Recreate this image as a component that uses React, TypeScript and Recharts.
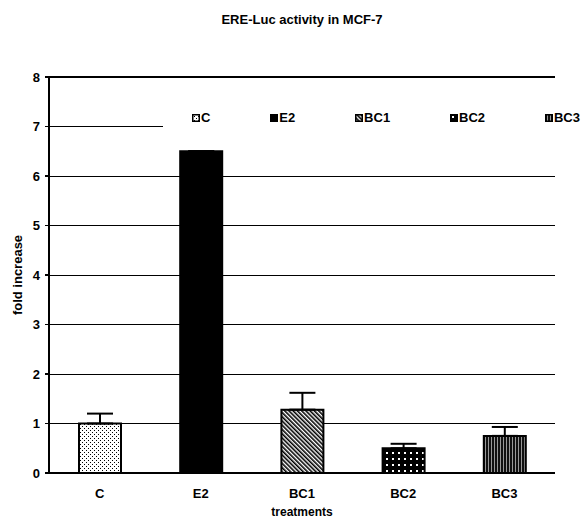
import React from 'react';
import { BarChart, Bar, XAxis, YAxis, CartesianGrid, ErrorBar, Cell, Legend, ReferenceLine, Label } from 'recharts';

// values
const categories = ['C', 'E2', 'BC1', 'BC2', 'BC3'];
const foldIncrease = [1.0, 6.5, 1.28, 0.5, 0.75];
const upperError = [0.2, 0, 0.34, 0.09, 0.18];
const yTicks = [0, 1, 2, 3, 4, 5, 6, 7, 8];
const edgeTicks = [0, 1, 2, 3, 4, 5];

const fills = ['url(#patC)', '#000', 'url(#patBC1)', 'url(#patBC2)', 'url(#patBC3)'];

const data = categories.map((name, i) => ({
    name,
    value: foldIncrease[i],
    err: [0, upperError[i]],
}));

const FONT = '"Liberation Sans", Arial, sans-serif';
const tickStyle = { fill: '#000', fontSize: 13, fontWeight: 700, fontFamily: FONT };
const crisp = { shapeRendering: 'crispEdges' as const };

const renderLegend = () => (
    <div
        style={{
            display: 'flex',
            justifyContent: 'space-between',
            alignItems: 'center',
            height: '100%',
            padding: '0 1px 0 29px',
            boxSizing: 'border-box',
        }}
    >
        {categories.map((c, i) => (
            <div key={c} style={{ display: 'flex', alignItems: 'center', marginTop: 2 }}>
                <svg width={8} height={8} style={{ marginRight: 1, display: 'block' }}>
                    <rect x={0.75} y={0.75} width={6.5} height={6.5} fill={fills[i]} stroke="#000" strokeWidth={1.5} />
                </svg>
                <span style={{ font: `bold 13px ${FONT}`, color: '#000', lineHeight: '14px' }}>{c}</span>
            </div>
        ))}
    </div>
);

const App = () => {
    return (
        <div style={{ position: 'absolute', left: 0, top: 0, width: 581, height: 525, background: '#fff' }}>
            <div
                style={{
                    position: 'absolute',
                    left: 49,
                    top: 12,
                    width: 506,
                    textAlign: 'center',
                    font: `bold 13px ${FONT}`,
                    lineHeight: '16px',
                    color: '#000',
                }}
            >
                ERE-Luc activity in MCF-7
            </div>
            <BarChart width={581} height={525} data={data} margin={{ top: 77, right: 26, bottom: 50, left: 0 }}>
                <defs>
                    <pattern id="patC" width={4} height={4} patternUnits="userSpaceOnUse">
                        <rect width={4} height={4} fill="#fff" />
                        <rect x={0} y={0} width={1} height={1} fill="#000" />
                        <rect x={2} y={2} width={1} height={1} fill="#000" />
                    </pattern>
                    <pattern id="patBC1" width={3} height={3} patternUnits="userSpaceOnUse" patternTransform="rotate(-45)">
                        <rect width={3} height={3} fill="#fff" />
                        <rect width={1.6} height={3} fill="#000" />
                    </pattern>
                    <pattern id="patBC2" width={6} height={6} patternUnits="userSpaceOnUse">
                        <rect width={6} height={6} fill="#000" />
                        <rect x={2} y={2} width={2} height={2} fill="#fff" />
                    </pattern>
                    <pattern id="patBC3" width={3} height={3} patternUnits="userSpaceOnUse">
                        <rect width={3} height={3} fill="#111" />
                        <rect x={2} width={1} height={3} fill="#999" />
                    </pattern>
                </defs>
                <CartesianGrid vertical={false} stroke="#000" strokeWidth={1} style={crisp} />
                <XAxis
                    dataKey="name"
                    height={1}
                    stroke="#000"
                    tickLine={false}
                    tickSize={0}
                    tickMargin={16}
                    tick={tickStyle}
                    axisLine={{ stroke: '#000', strokeWidth: 2, ...crisp }}
                >
                    <Label
                        value="treatments"
                        position="bottom"
                        offset={33}
                        style={{ fill: '#000', fontSize: 12, fontWeight: 700, fontFamily: FONT }}
                    />
                </XAxis>
                <XAxis
                    xAxisId="edges"
                    type="number"
                    domain={[0, 5]}
                    ticks={edgeTicks}
                    allowDataOverflow
                    height={1}
                    stroke="#000"
                    tick={false}
                    axisLine={false}
                    tickSize={4}
                    tickLine={{ stroke: '#000', strokeWidth: 1.5, ...crisp }}
                />
                <YAxis
                    width={49}
                    domain={[0, 8]}
                    ticks={yTicks}
                    interval={0}
                    stroke="#000"
                    tickSize={4}
                    tickMargin={5}
                    tick={tickStyle}
                    axisLine={{ stroke: '#000', strokeWidth: 2, ...crisp }}
                    tickLine={{ stroke: '#000', strokeWidth: 1.5, ...crisp }}
                >
                    <Label
                        value="fold increase"
                        angle={-90}
                        position="insideLeft"
                        offset={17}
                        style={{ textAnchor: 'middle', fill: '#000', fontSize: 13, fontWeight: 700, fontFamily: FONT }}
                    />
                </YAxis>
                <ReferenceLine y={8} stroke="#000" strokeWidth={2} style={crisp} />
                <ReferenceLine xAxisId="edges" x={5} stroke="#000" strokeWidth={2} style={crisp} />
                <Bar dataKey="value" barSize={42} stroke="#000" strokeWidth={2} isAnimationActive={false}>
                    {data.map((d, i) => (
                        <Cell key={`cell-${d.name}`} fill={fills[i]} />
                    ))}
                    <ErrorBar dataKey="err" width={13} stroke="#000" strokeWidth={2} isAnimationActive={false} />
                </Bar>
                <Legend
                    layout="horizontal"
                    verticalAlign="middle"
                    align="center"
                    content={renderLegend}
                    wrapperStyle={{ left: 163, top: 84, width: 418, height: 66, background: '#fff' }}
                />
            </BarChart>
        </div>
    );
};

export default App;
